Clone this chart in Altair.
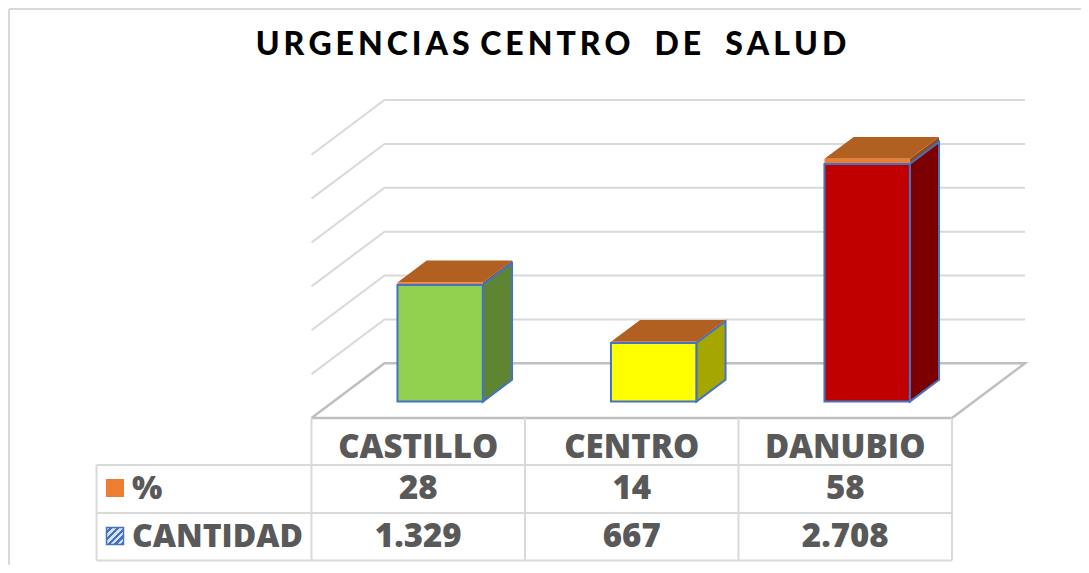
import altair as alt
import pandas as pd

# ---- data
categories = ["CASTILLO", "CENTRO", "DANUBIO"]
cantidad = [1329, 667, 2708]
porcentaje = [28, 14, 58]
cantidad_labels = ["1.329", "667", "2.708"]
porcentaje_labels = ["28", "14", "58"]
front_colors = ["#92D050", "#FFFF00", "#C00000"]
side_colors = ["#5E8632", "#A6A600", "#7D0000"]
ticks = [0, 500, 1000, 1500, 2000, 2500, 3000]
series_names = ["%", "CANTIDAD"]

# ---- layout of the projection
W, H = 1073, 557
ORIGIN_X, ORIGIN_Y = 311.5, 418.0      # page position of category 0 / value 0, front plane
CAT_PX = 213.5
VAL_PX = 263.3 / 3000
DX = 73.0 / CAT_PX                     # shift of the back plane, in category units
DY = 54.7 / VAL_PX                     # shift of the back plane, in value units
BAR = 0.4
D0, D1 = 0.30, 0.70
GREY, DARK, TEXT, BLUE = "#D9D9D9", "#BFBFBF", "#595959", "#4472C4"
TXT_FONT = "Open Sans"
TXT_SIZE = 33


def cx(px):
    return (px - ORIGIN_X) / CAT_PX


def vy(py):
    return (ORIGIN_Y - py) / VAL_PX


xs = alt.Scale(domain=[cx(8), cx(8 + W)], nice=False, zero=False, padding=0)
ys = alt.Scale(domain=[vy(8 + H), vy(8)], nice=False, zero=False, padding=0)
X = alt.X("x:Q", scale=xs, axis=None)
Y = alt.Y("y:Q", scale=ys, axis=None, stack=None)
X2 = alt.X2("x2:Q")
Y2 = alt.Y2("y2:Q")
FILL = alt.Color("fill:N", scale=None, legend=None)

# ---- walls and floor
wall = []
for t in ticks[1:]:
    wall += [
        dict(k=t, o=0, x=0, y=t),
        dict(k=t, o=1, x=DX, y=t + DY),
        dict(k=t, o=2, x=3 + DX, y=t + DY),
    ]
floor = [
    dict(k=0, o=0, x=0, y=0),
    dict(k=0, o=1, x=DX, y=DY),
    dict(k=0, o=2, x=3 + DX, y=DY),
    dict(k=0, o=3, x=3, y=0),
    dict(k=0, o=4, x=0, y=0),
]


def path(rows, color, width):
    return alt.Chart(pd.DataFrame(rows)).mark_line(color=color, strokeWidth=width).encode(
        x=X, y=Y, detail="k:N", order="o:Q"
    )


# ---- bars
side_cant, side_pct, tops, front_cant, front_pct = [], [], [], [], []
for i, (v, p) in enumerate(zip(cantidad, porcentaje)):
    left = i + (1 - BAR) / 2
    right = left + BAR
    for d in (D0, D1):
        side_cant.append(dict(k=i, fill=side_colors[i], x=right + d * DX, y=d * DY, y2=v + d * DY))
        side_pct.append(dict(k=i, fill="#8E4B1E", x=right + d * DX, y=v + d * DY, y2=v + p + d * DY))
        tops.append(dict(k=i, fill="#B25F22", x=left + d * DX, x2=right + d * DX, y=v + p + d * DY))
    front_cant.append(dict(fill=front_colors[i], x=left + D0 * DX, x2=right + D0 * DX, y=D0 * DY, y2=v + D0 * DY))
    front_pct.append(dict(fill="#ED7D31", x=left + D0 * DX, x2=right + D0 * DX, y=v + D0 * DY, y2=v + p + D0 * DY))

sides_a = alt.Chart(pd.DataFrame(side_pct)).mark_area().encode(x=X, y=Y, y2=Y2, detail="k:N", color=FILL)
sides_b = alt.Chart(pd.DataFrame(side_cant)).mark_area(stroke=BLUE, strokeWidth=2).encode(
    x=X, y=Y, y2=Y2, detail="k:N", color=FILL
)
top_faces = alt.Chart(pd.DataFrame(tops)).mark_area(orient="horizontal").encode(
    x=X, x2=X2, y=Y, detail="k:N", color=FILL
)
fronts_a = alt.Chart(pd.DataFrame(front_pct)).mark_rect().encode(x=X, x2=X2, y=Y, y2=Y2, color=FILL)
fronts_b = alt.Chart(pd.DataFrame(front_cant)).mark_rect(stroke=BLUE, strokeWidth=2).encode(
    x=X, x2=X2, y=Y, y2=Y2, color=FILL
)

# ---- data table
ROW_TOP, ROW1, ROW2, ROW3 = 418, 465, 513, 560.5
T_LEFT = cx(96.5)
rules = []
for c in range(4):
    rules.append(dict(x=c, x2=c, y=vy(ROW_TOP), y2=vy(ROW3)))
rules.append(dict(x=T_LEFT, x2=T_LEFT, y=vy(ROW1), y2=vy(ROW3)))
for r in (ROW1, ROW2, ROW3):
    rules.append(dict(x=T_LEFT, x2=3, y=vy(r), y2=vy(r)))
# chart frame
rules.append(dict(x=cx(9), x2=cx(9), y=vy(9), y2=vy(8 + H)))
rules.append(dict(x=cx(9), x2=cx(8 + W), y=vy(9), y2=vy(9)))
table_lines = alt.Chart(pd.DataFrame(rules)).mark_rule(color=GREY, strokeWidth=2).encode(x=X, x2=X2, y=Y, y2=Y2)

cells = []
for i in range(3):
    cells.append(dict(t=categories[i], x=i + 0.5, y=vy(447.5)))
    cells.append(dict(t=porcentaje_labels[i], x=i + 0.5, y=vy(489)))
    cells.append(dict(t=cantidad_labels[i], x=i + 0.5, y=vy(536.5)))
cell_text = alt.Chart(pd.DataFrame(cells)).mark_text(
    font=TXT_FONT, fontWeight=800, fontSize=TXT_SIZE, color=TEXT, align="center", baseline="middle"
).encode(x=X, y=Y, text="t:N")

row_labels = [dict(t=series_names[0], x=cx(132), y=vy(489)), dict(t=series_names[1], x=cx(132), y=vy(536.5))]
row_text = alt.Chart(pd.DataFrame(row_labels)).mark_text(
    font=TXT_FONT, fontWeight=800, fontSize=32, color=TEXT, align="left", baseline="middle"
).encode(x=X, y=Y, text="t:N")

sw1 = alt.Chart(pd.DataFrame([dict(x=cx(115), y=vy(488))])).mark_square(size=324, fill="#ED7D31", opacity=1).encode(x=X, y=Y)
stops = []
n = 5
for j in range(n):
    a, b = j / n, (j + 1) / n
    mid = (a + b) / 2
    stops += [
        alt.GradientStop(offset=a, color="#D6E2F5"),
        alt.GradientStop(offset=mid, color="#D6E2F5"),
        alt.GradientStop(offset=mid, color="#4472C4"),
        alt.GradientStop(offset=b, color="#4472C4"),
    ]
hatch = alt.LinearGradient(gradient="linear", stops=stops, x1=0, y1=0, x2=1, y2=1)
sw2 = alt.Chart(pd.DataFrame([dict(x=cx(115), y=vy(536))])).mark_square(
    size=289, fill=hatch, stroke=BLUE, strokeWidth=1.5, opacity=1
).encode(x=X, y=Y)

# title with its wide letter spacing
LETTER = "\u2009"
WORD = "\u2004"
BIG = "\u2003"
title_text = BIG.join(
    [WORD.join([LETTER.join("URGENCIAS"), LETTER.join("CENTRO")]), LETTER.join("DE"), LETTER.join("SALUD")]
)
title_mark = alt.Chart(pd.DataFrame([dict(t=title_text, x=cx(551), y=vy(44.5))])).mark_text(
    font="Lato", fontWeight=900, fontSize=32, color="#000000", align="center", baseline="middle"
).encode(x=X, y=Y, text="t:N")

chart = alt.layer(
    path(wall, GREY, 2),
    path(floor, DARK, 2.5),
    table_lines,
    sides_a,
    sides_b,
    top_faces,
    fronts_a,
    fronts_b,
    cell_text,
    row_text,
    sw1,
    sw2,
    title_mark,
).properties(
    width=W,
    height=H,
    padding=0,
    autosize=alt.AutoSizeParams(type="none"),
    background="white",
).configure_view(stroke=None)

chart.save("out.html", embed_options={"renderer": "svg", "actions": False})
